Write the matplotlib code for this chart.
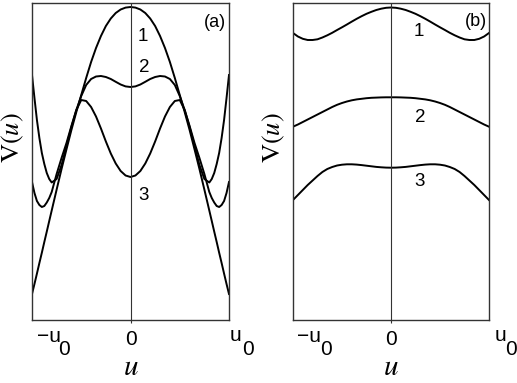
import matplotlib
matplotlib.use('Agg')
import matplotlib.pyplot as plt

plt.rcParams['font.family'] = ['Liberation Sans', 'DejaVu Sans']
plt.rcParams['mathtext.fontset'] = 'stix'

# u in units of u0, V in arbitrary units (no scale shown)
# panel (a): denser samples near the edges where the curves bend hard
ua = [-1.000, -0.975, -0.950, -0.925, -0.900, -0.875, -0.850, -0.825, -0.800,
      -0.75, -0.70, -0.65, -0.60, -0.55, -0.50, -0.45, -0.40, -0.35, -0.30,
      -0.25, -0.20, -0.15, -0.10, -0.05, 0.00, 0.05, 0.10, 0.15, 0.20, 0.25,
      0.30, 0.35, 0.40, 0.45, 0.50, 0.55, 0.60, 0.65, 0.70, 0.75,
      0.800, 0.825, 0.850, 0.875, 0.900, 0.925, 0.950, 0.975, 1.000]
va1 = [26, 36, 46.4, 57, 67.3, 78, 88.4, 99, 109.5, 130.4, 151, 170.7, 190, 208,
       225, 242, 258, 272, 284, 294, 301.5, 307, 310.5, 312.4, 313, 312.4, 310.5,
       307, 301.5, 294, 284, 272, 258, 242, 225, 208, 190, 170.7, 151, 130.4,
       109.5, 99, 88.4, 78, 67.3, 57, 46.4, 36, 26]
va2 = [138, 127, 119, 115, 113, 114, 117.5, 122, 128, 146, 162, 177, 194, 210,
       224, 235, 241, 243.5, 244, 243, 241, 238.2, 235.5, 233.6, 233, 233.6, 235.5,
       238.2, 241, 243, 244, 243.5, 241, 235, 224, 210, 194, 177, 162, 146,
       128, 122, 117.5, 114, 113, 115, 119, 127, 138]
va3 = [245, 222, 200, 182, 167, 156, 147, 141, 137.5, 141, 155, 174, 193, 210,
       220, 219, 213, 203.5, 191.5, 178.5, 166.5, 156.5, 149, 144.5, 143, 144.5,
       149, 156.5, 166.5, 178.5, 191.5, 203.5, 213, 219, 220, 210, 193, 174, 155,
       141, 137.5, 141, 147, 156, 167, 182, 200, 222, 245]

# panel (b)
ub = [-1.00, -0.95, -0.90, -0.85, -0.80, -0.75, -0.70, -0.65, -0.60, -0.55,
      -0.50, -0.45, -0.40, -0.35, -0.30, -0.25, -0.20, -0.15, -0.10, -0.05,
      0.00, 0.05, 0.10, 0.15, 0.20, 0.25, 0.30, 0.35, 0.40, 0.45,
      0.50, 0.55, 0.60, 0.65, 0.70, 0.75, 0.80, 0.85, 0.90, 0.95, 1.00]
vb1 = [287, 283.5, 281.2, 280, 280, 280.7, 282.5, 284.7, 287.2, 290, 292.7, 295.5,
       298.4, 301.2, 303.8, 306.2, 308.2, 310, 311.3, 312.2, 312.5, 312.2, 311.3, 310,
       308.2, 306.2, 303.8, 301.2, 298.4, 295.5, 292.7, 290, 287.2, 284.7, 282.5,
       280.7, 280, 280, 281.2, 283.5, 287]
vb2 = [193.3, 195.5, 198, 200.5, 203, 205.5, 208, 210.5, 213, 215.2, 217, 218.5,
       219.7, 220.6, 221.2, 221.8, 222.2, 222.4, 222.6, 222.7, 222.7, 222.7, 222.6,
       222.4, 222.2, 221.8, 221.2, 220.6, 219.7, 218.5, 217, 215.2, 213, 210.5, 208,
       205.5, 203, 200.5, 198, 195.5, 193.3]
vb3 = [120, 125, 130, 135, 139.5, 144, 148, 151, 153, 154.5, 155.3, 155.7, 155.7,
       155.4, 154.9, 154.3, 153.7, 153.1, 152.7, 152.4, 152.3, 152.4, 152.7, 153.1,
       153.7, 154.3, 154.9, 155.4, 155.7, 155.7, 155.3, 154.5, 153, 151, 148, 144,
       139.5, 135, 130, 125, 120]

curve_names = ['1', '2', '3']
panels = [
    dict(tag='(a)', u=ua, curves=[va1, va2, va3], box=[32, 229],
         name_pos=[(0.127, 283.5), (0.137, 253), (0.137, 125)], tag_pos=(0.855, 297.5),
         left_lab=(-0.95, -0.736), right_lab=(1.01, 1.13)),
    dict(tag='(b)', u=ub, curves=[vb1, vb2, vb3], box=[293, 489],
         name_pos=[(0.286, 289), (0.296, 202.5), (0.296, 138)], tag_pos=(0.867, 299),
         left_lab=(-0.96, -0.724), right_lab=(1.06, 1.163)),
]

W, H = 517, 383
fig = plt.figure(figsize=(W / 100, H / 100), dpi=100)

for p in panels:
    x0, x1 = p['box']
    ax = fig.add_axes([x0 / W, (H - 320) / H, (x1 - x0) / W, 317 / H])
    for vals in p['curves']:
        ax.plot(p['u'], vals, color='black', lw=1.4)
    ax.axvline(0, color='#333333', lw=0.8)
    ax.set_xlim(-1, 1)
    ax.set_ylim(0, 317)
    ax.set_xticks([0])
    ax.set_xticklabels([])
    ax.set_yticks([])
    ax.tick_params(axis='x', length=2, width=0.8, color='#333333', direction='out')
    for s in ax.spines.values():
        s.set_color('#333333')
        s.set_linewidth(1.0)

    for name, (tx, ty) in zip(curve_names, p['name_pos']):
        ax.text(tx, ty, name, fontsize=13.5, ha='center', va='center')
    ax.text(p['tag_pos'][0], p['tag_pos'][1], p['tag'], fontsize=13, ha='center', va='center')

    # tick labels -u0, 0, u0 (subscript drawn as its own text, same size)
    lx, lsub = p['left_lab']
    rx, rsub = p['right_lab']
    ax.text(lx, -22, '\u2212u', fontsize=15, ha='left', va='baseline', clip_on=False)
    ax.text(lsub, -35, '0', fontsize=15, ha='left', va='baseline', clip_on=False)
    ax.text(0, -25, '0', fontsize=15, ha='center', va='baseline', clip_on=False)
    ax.text(rx, -21, 'u', fontsize=15, ha='left', va='baseline', clip_on=False)
    ax.text(rsub, -35, '0', fontsize=15, ha='left', va='baseline', clip_on=False)

    xc = (x0 + x1) / 2
    fig.text(xc / W, 1 - 367 / H, r'$u$', fontsize=21, ha='center', va='center')
    fig.text((x0 - 19) / W, 1 - 137.5 / H, r'$\mathrm{V}(u)$', fontsize=19,
             rotation=90, ha='center', va='center')

fig.savefig('out.png', dpi=100)
